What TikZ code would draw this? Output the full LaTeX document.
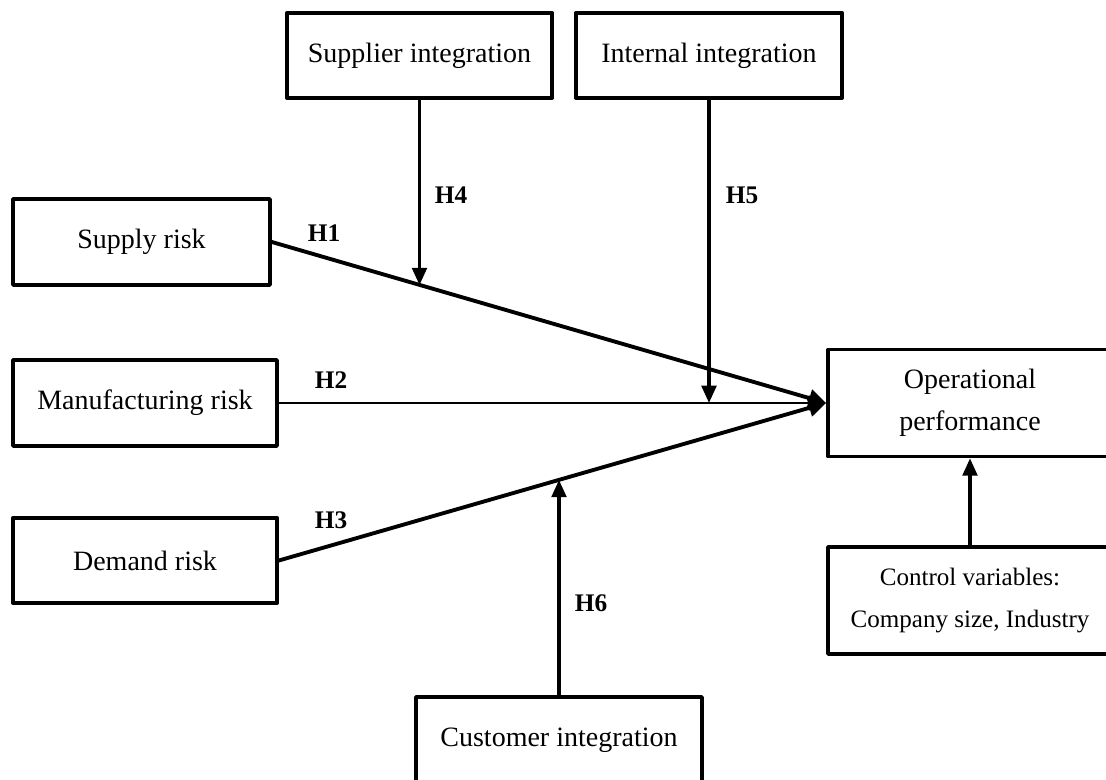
\documentclass[tikz,border=0pt]{standalone}
\usepackage{fontspec}
\setmainfont{Liberation Serif}
\usetikzlibrary{arrows.meta}
\tikzset{
  box/.style={draw, rectangle, line width=2.8pt, inner sep=0pt, align=center,
    font=\fontsize{21}{31.5}\selectfont},
  hlabel/.style={font=\fontsize{19}{22}\selectfont\bfseries},
  link/.style={line width=2.9pt, -{Triangle[length=13pt,width=13pt]}},
  thinlink/.style={line width=2.5pt, -{Triangle[length=13pt,width=11pt]}}
}
\begin{document}
\begin{tikzpicture}[line cap=round,line join=round,x=0.75pt,y=-0.75pt]
\useasboundingbox (0,0) rectangle (1106,780);
% left side: risks
\node[box, minimum width=192.75pt, minimum height=64.5pt] (srisk) at (141.5,242) {Supply risk};
\node[box, minimum width=198pt, minimum height=64.5pt] (mrisk) at (145,403) {Manufacturing risk};
\node[box, minimum width=198pt, minimum height=64pt] (drisk) at (145,560.5) {Demand risk};
% moderators
\node[box, minimum width=198.75pt, minimum height=64pt] (supint) at (419.5,55.5) {Supplier integration};
\node[box, minimum width=199.5pt, minimum height=64pt] (intint) at (709,55.5) {Internal integration};
\node[box, minimum width=214.5pt, minimum height=64.5pt] (cusint) at (559,740) {Customer integration};
% outcome
\node[box, minimum width=213pt, minimum height=80.25pt] (oper) at (970,403) {Operational\\performance};
\node[box, minimum width=213pt, minimum height=80.25pt,
  font=\fontsize{18.8}{31.5}\selectfont] (ctrl) at (970,600.5) {Control variables:\\Company size, Industry};
% main paths
\draw[link] (srisk.east) -- (oper.west);
\draw[thinlink, line width=2.1pt] (mrisk.east) -- (oper.west);
\draw[link] (drisk.east) -- (oper.west);
\path (srisk.east) -- (oper.west) coordinate[pos=0.268] (h4end);
\path (drisk.east) -- (oper.west) coordinate[pos=0.512] (h6end);
% moderating paths
\draw[thinlink] (supint.south) -- (supint.south |- h4end);
\draw[thinlink] (intint.south) -- (intint.south |- oper.west);
\draw[thinlink] (cusint.north) -- (cusint.north |- h6end);
\draw[thinlink] (ctrl.north) -- (oper.south);
% hypotheses
\node[hlabel] (h1) at (324,233) {H1};
\node[hlabel] (h2) at (331,380) {H2};
\node[hlabel] (h3) at (331,520) {H3};
\node[hlabel] (h4) at (451,195) {H4};
\node[hlabel] (h5) at (742,195) {H5};
\node[hlabel] (h6) at (591,603) {H6};
\end{tikzpicture}
\end{document}
